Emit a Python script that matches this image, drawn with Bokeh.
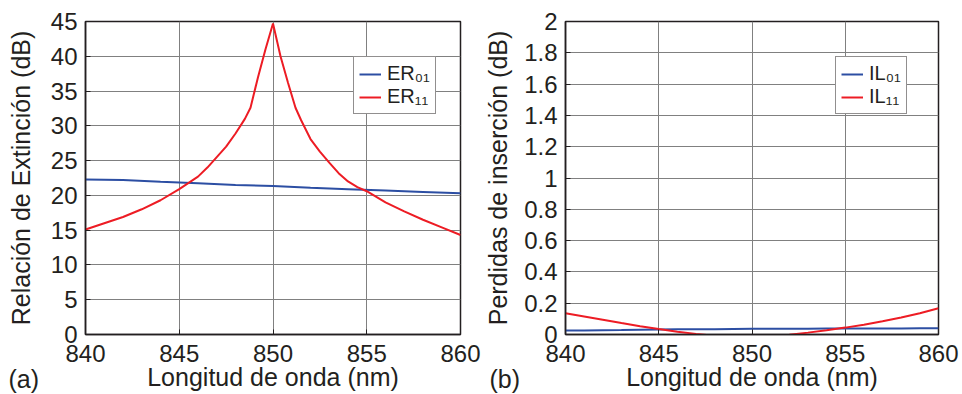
from bokeh.plotting import figure
from bokeh.models import (Range1d, FixedTicker, CustomJSTickFormatter, Legend,
                          LegendItem, Title)
from bokeh.layouts import row
from bokeh.embed import file_html
from bokeh.resources import INLINE

# ---------------- data ----------------
x_ticks = [840, 845, 850, 855, 860]
er_ticks = [0, 5, 10, 15, 20, 25, 30, 35, 40, 45]
il_ticks = [0, 0.2, 0.4, 0.6, 0.8, 1.0, 1.2, 1.4, 1.6, 1.8, 2.0]

wl_er11 = [840, 841, 842, 843, 844, 845, 845.5, 846, 846.5, 847, 847.5, 848,
           848.5, 848.8, 849.2, 849.6, 850, 850.4, 850.8, 851.2, 851.5, 852,
           852.5, 853, 853.5, 854, 854.5, 855, 856, 857, 858, 859, 860]
er11 = [15.1, 16.0, 16.9, 18.0, 19.3, 20.9, 21.8, 22.7, 24.0, 25.5, 27.0, 28.9,
        31.0, 32.6, 37.0, 41.0, 44.7, 40.0, 36.2, 32.6, 30.8, 28.1,
        26.3, 24.7, 23.2, 22.0, 21.2, 20.6, 19.0, 17.7, 16.5, 15.4, 14.3]

wl_er01 = [840, 842, 844, 846, 848, 850, 852, 854, 856, 858, 860]
er01 = [22.3, 22.2, 21.95, 21.75, 21.5, 21.35, 21.1, 20.9, 20.7, 20.5, 20.3]

wl_il = [840, 841, 842, 843, 844, 845, 846, 847, 848, 849, 850, 851, 852, 853,
         854, 855, 856, 857, 858, 859, 860]
il11 = [0.136, 0.115, 0.094, 0.073, 0.053, 0.035, 0.018, 0.004, -0.008, -0.015,
        -0.017, -0.012, -0.002, 0.012, 0.027, 0.044, 0.063, 0.084, 0.108, 0.136,
        0.168]
il01 = [0.026, 0.026, 0.027, 0.028, 0.03, 0.032, 0.033, 0.034, 0.034, 0.035,
        0.036, 0.036, 0.037, 0.037, 0.038, 0.038, 0.038, 0.039, 0.039, 0.04,
        0.04]

panel_tags = ["(a)", "(b)"]

FONT = "Liberation Sans"
TXT = "#231f20"
BLUE = "#2c4ea3"
RED = "#ed1c24"
GRID = "#808080"


def make_fig(ylo, yhi, yticks, ylabel, bl, br, ylab_standoff):
    p = figure(width=481, height=394, x_range=Range1d(840, 860),
               y_range=Range1d(ylo, yhi), output_backend="svg",
               toolbar_location=None, min_border_left=bl,
               min_border_right=br, min_border_top=21, min_border_bottom=60)
    p.background_fill_color = "white"
    p.border_fill_color = "white"
    p.outline_line_color = TXT
    p.outline_line_width = 1.5
    p.xaxis.ticker = FixedTicker(ticks=x_ticks)
    p.yaxis.ticker = FixedTicker(ticks=yticks)
    p.yaxis.formatter = CustomJSTickFormatter(
        code="return String(Math.round(tick*10)/10)")
    p.xaxis.axis_label = "Longitud de onda (nm)"
    p.yaxis.axis_label = ylabel
    for ax in (p.xaxis[0], p.yaxis[0]):
        ax.axis_line_color = TXT
        ax.axis_line_width = 1.5
        ax.major_tick_in = 5
        ax.major_tick_out = 0
        ax.major_tick_line_color = TXT
        ax.minor_tick_line_color = None
        ax.major_label_text_font = FONT
        ax.major_label_text_font_size = "24px"
        ax.major_label_text_color = TXT
        ax.axis_label_text_font = FONT
        ax.axis_label_text_font_size = "25px"
        ax.axis_label_text_font_style = "normal"
        ax.axis_label_text_color = TXT
    p.xaxis.major_label_standoff = 10
    p.xaxis.axis_label_standoff = -2
    p.yaxis.major_label_standoff = 8
    p.yaxis.axis_label_standoff = ylab_standoff
    p.xgrid.grid_line_color = GRID
    p.ygrid.grid_line_color = GRID
    p.xgrid.grid_line_width = 1
    p.ygrid.grid_line_width = 1
    return p


def add_legend(p, items, lx):
    leg = Legend(items=items, location=(lx, 220))
    leg.label_text_font = FONT
    leg.label_text_font_size = "20px"
    leg.label_text_color = TXT
    leg.glyph_width = 22
    leg.glyph_height = 20
    leg.label_height = 20
    leg.label_standoff = 6
    leg.padding = 5
    leg.spacing = 0
    leg.margin = 0
    leg.border_line_color = TXT
    leg.border_line_width = 1
    leg.background_fill_alpha = 1
    p.add_layout(leg)


def add_tag(p, text, off):
    t = Title(text=text, align="left", offset=off, standoff=-58,
              vertical_align="top", text_font=FONT, text_font_size="25px",
              text_font_style="normal", text_color=TXT)
    p.add_layout(t, "below")


# ---------------- (a) extinction ratio ----------------
p1 = make_fig(0, 45, er_ticks, "Relación de Extinción (dB)", 85, 21, 13)
r01 = p1.line(wl_er01, er01, line_color=BLUE, line_width=2)
r11 = p1.line(wl_er11, er11, line_color=RED, line_width=2)
add_legend(p1, [LegendItem(label="ER₀₁", renderers=[r01]),
                LegendItem(label="ER₁₁", renderers=[r11])], 268)
add_tag(p1, panel_tags[0], -77)

# ---------------- (b) insertion loss ----------------
p2 = make_fig(0, 2, il_ticks, "Perdidas de inserción (dB)", 81, 24, 9)
q01 = p2.line(wl_il, il01, line_color=BLUE, line_width=2)
q11 = p2.line(wl_il, il11, line_color=RED, line_width=2)
add_legend(p2, [LegendItem(label="IL₀₁", renderers=[q01]),
                LegendItem(label="IL₁₁", renderers=[q11])], 270)
add_tag(p2, panel_tags[1], -76)

layout = row(p1, p2)
open("out.html", "w").write(file_html(layout, INLINE))
